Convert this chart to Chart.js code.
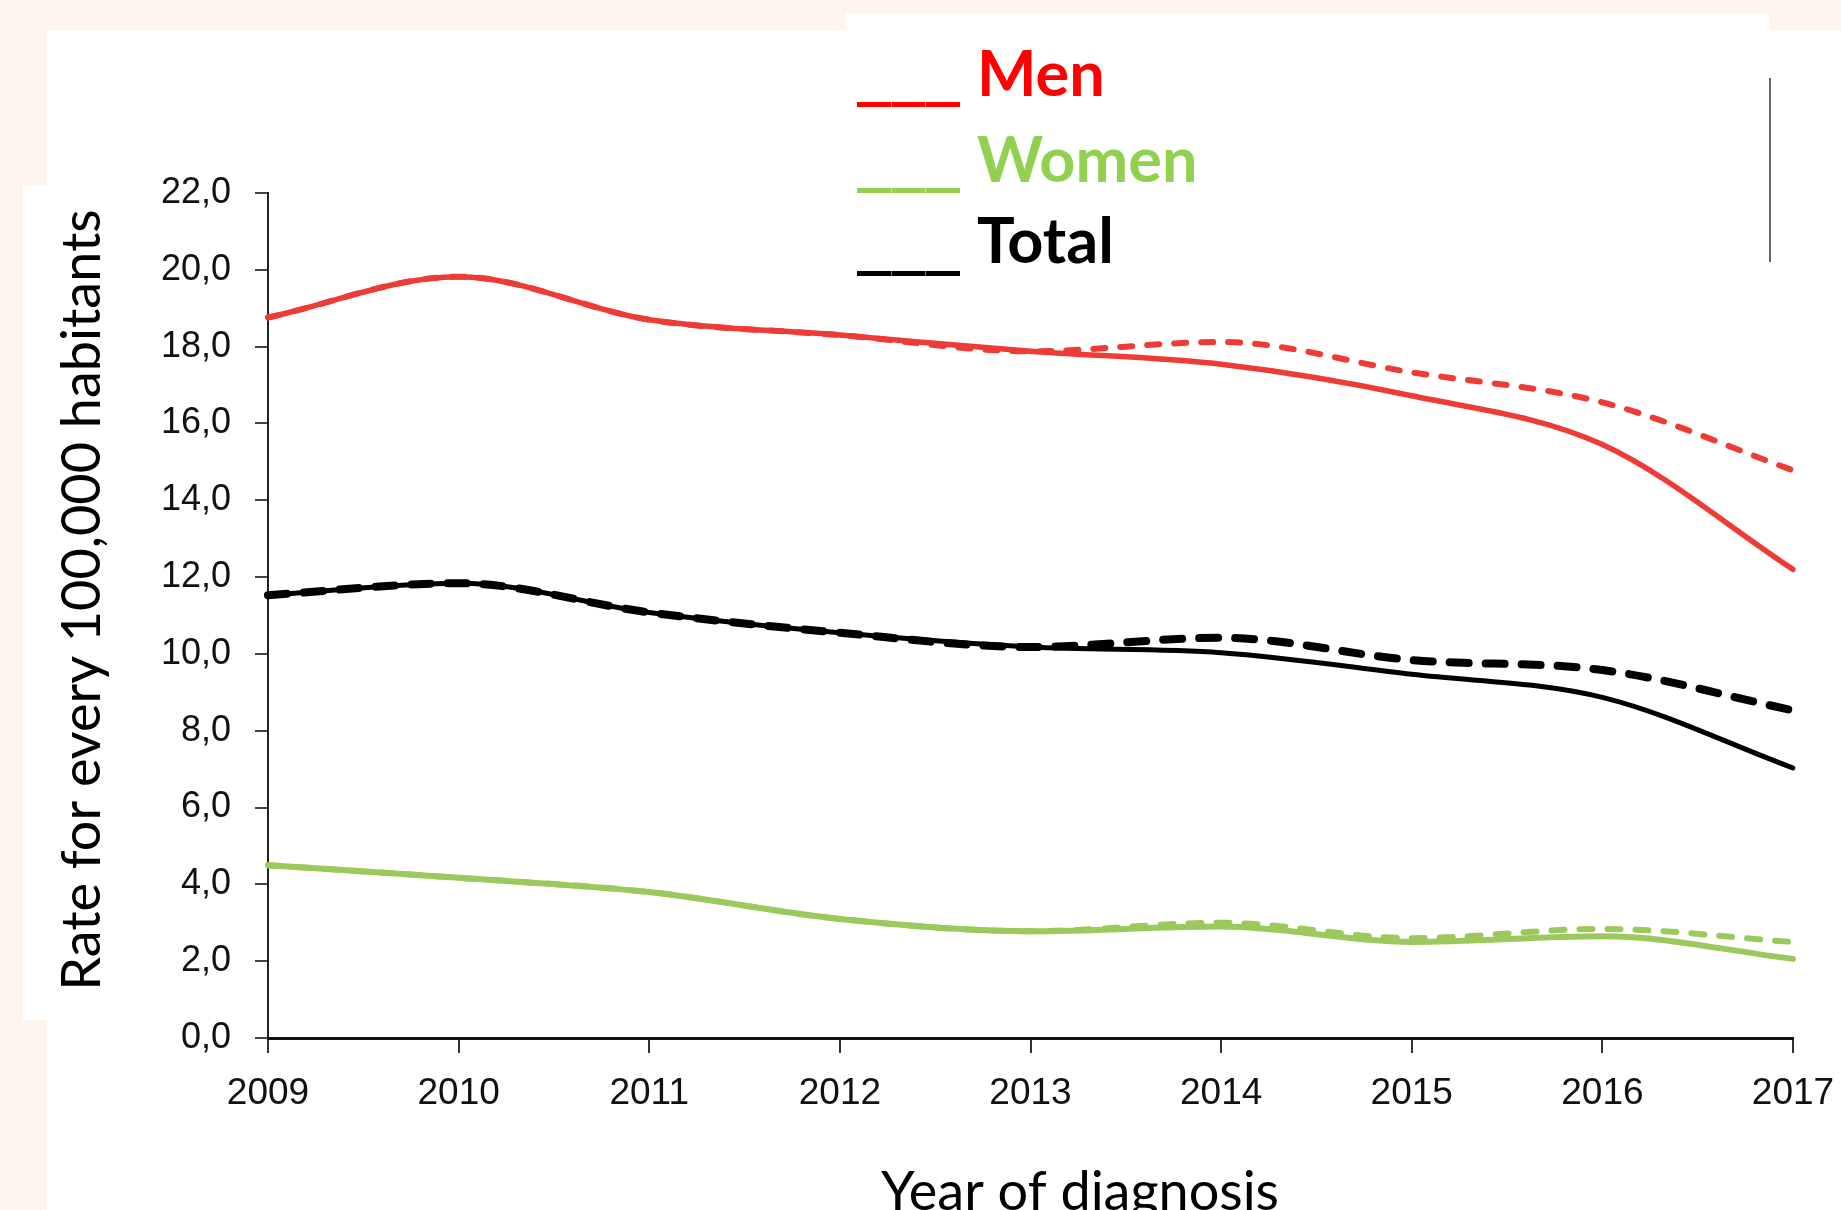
<!DOCTYPE html>
<html>
<head>
<meta charset="utf-8">
<script src="https://cdn.jsdelivr.net/npm/chart.js@4.4.1/dist/chart.umd.min.js"></script>
<style>
html,body{margin:0;padding:0;background:#fdf4ee;overflow:hidden}
canvas{display:block}
</style>
</head>
<body>
<canvas id="c" width="1841" height="1210"></canvas>
<script>
// ---- data ----
const years = ['2009','2010','2011','2012','2013','2014','2015','2016','2017'];
const menSolid    = [18.76, 19.82, 18.70, 18.30, 17.88, 17.54, 16.72, 15.45, 12.20];
const menDashed   = [18.76, 19.82, 18.70, 18.30, 17.88, 18.12, 17.33, 16.55, 14.78];
const totalSolid  = [11.53, 11.84, 11.08, 10.55, 10.18, 10.03, 9.47, 8.87, 7.03];
const totalDashed = [11.53, 11.84, 11.08, 10.55, 10.18, 10.42, 9.84, 9.58, 8.53];
const womenSolid  = [4.50, 4.17, 3.80, 3.10, 2.78, 2.90, 2.50, 2.65, 2.06];
const womenDashed = [4.50, 4.17, 3.80, 3.10, 2.78, 3.00, 2.60, 2.84, 2.50];
const yTickLabels = ['0,0','2,0','4,0','6,0','8,0','10,0','12,0','14,0','16,0','18,0','20,0','22,0'];
const legendLabels = ['Men','Women','Total'];
const yTitle = 'Rate for every 100,000 habitants';
const xTitle = 'Year of diagnosis';

const RED = '#ef3b36', GREEN = '#9cc95c', BLACK = '#000000';
const LEG_COLORS = ['#ff0000', '#92d050', '#000000'];

const decor = {
  id: 'decor',
  beforeDraw(chart) {
    const ctx = chart.ctx;
    ctx.save();
    ctx.fillStyle = '#fdf4ee';
    ctx.fillRect(0, 0, chart.width, chart.height);
    ctx.fillStyle = '#ffffff';
    ctx.fillRect(47, 30, chart.width - 47, chart.height - 30);
    ctx.fillRect(846, 13, 923, 20);
    ctx.fillRect(23, 185, 30, 835);
    ctx.restore();
  },
  afterDraw(chart) {
    const ctx = chart.ctx;
    ctx.save();
    // axis titles
    ctx.fillStyle = '#000';
    ctx.font = '54px Lato';
    ctx.textBaseline = 'alphabetic';
    ctx.textAlign = 'center';
    ctx.fillText(xTitle, 1080, 1210);
    ctx.save();
    ctx.translate(100, 600);
    ctx.rotate(-Math.PI / 2);
    ctx.fillText(yTitle, 0, 0);
    ctx.restore();
    // legend
    const baseY = [96, 182, 263];
    const lineY = [102, 188, 271];
    ctx.textAlign = 'left';
    ctx.font = 'bold 63px Lato';
    legendLabels.forEach((lab, i) => {
      ctx.fillStyle = LEG_COLORS[i];
      for (let k = 0; k < 3; k++) {
        ctx.fillRect(857 + k * 34.5, lineY[i], 34, 5);
      }
      ctx.fillText(lab, 977, baseY[i]);
    });
    // bracket line at right of legend
    ctx.strokeStyle = '#666';
    ctx.lineWidth = 2;
    ctx.beginPath();
    ctx.moveTo(1770, 78);
    ctx.lineTo(1770, 262);
    ctx.stroke();
    ctx.restore();
  }
};

function ds(label, data, color, width, dash) {
  return {
    label, data,
    borderColor: color,
    backgroundColor: color,
    borderWidth: width,
    borderDash: dash || [],
    borderCapStyle: 'round',
    borderJoinStyle: 'round',
    pointRadius: 0,
    pointHoverRadius: 0,
    fill: false,
    cubicInterpolationMode: 'monotone'
  };
}

new Chart(document.getElementById('c'), {
  type: 'line',
  data: {
    labels: years,
    datasets: [
      ds('Men (dashed)', menDashed, RED, 6, [12, 15]),
      ds('Total (dashed)', totalDashed, BLACK, 8, [19, 17]),
      ds('Women (dashed)', womenDashed, GREEN, 6, [13, 15]),
      ds('Men', menSolid, RED, 5.5),
      ds('Total', totalSolid, BLACK, 5),
      ds('Women', womenSolid, GREEN, 6)
    ]
  },
  options: {
    responsive: false,
    animation: false,
    devicePixelRatio: 1,
    layout: { padding: { left: 0, top: 193, right: 48, bottom: 0 } },
    plugins: { legend: { display: false }, tooltip: { enabled: false }, title: { display: false } },
    scales: {
      x: {
        type: 'category',
        offset: false,
        border: { display: true, color: '#111', width: 3 },
        grid: { drawOnChartArea: false, drawTicks: true, tickLength: 15, tickColor: '#333', lineWidth: 2 },
        ticks: {
          font: { family: "'Liberation Sans', Arial, sans-serif", size: 37 },
          color: '#111',
          padding: 19,
          maxRotation: 0,
          autoSkip: false
        },
        afterFit(scale) {
          scale.height = 172;
          scale.paddingLeft = 0;
          scale.paddingRight = 0;
        }
      },
      y: {
        min: 0, max: 22,
        border: { display: true, color: '#222', width: 2 },
        grid: { drawOnChartArea: false, drawTicks: true, tickLength: 13, tickColor: '#444', lineWidth: 2 },
        ticks: {
          stepSize: 2,
          font: { family: "'Liberation Sans', Arial, sans-serif", size: 36 },
          color: '#111',
          padding: 24,
          autoSkip: false,
          callback: (v) => yTickLabels[Math.round(v / 2)]
        },
        afterFit(scale) { scale.width = 268; }
      }
    }
  },
  plugins: [decor]
});
</script>
</body>
</html>
